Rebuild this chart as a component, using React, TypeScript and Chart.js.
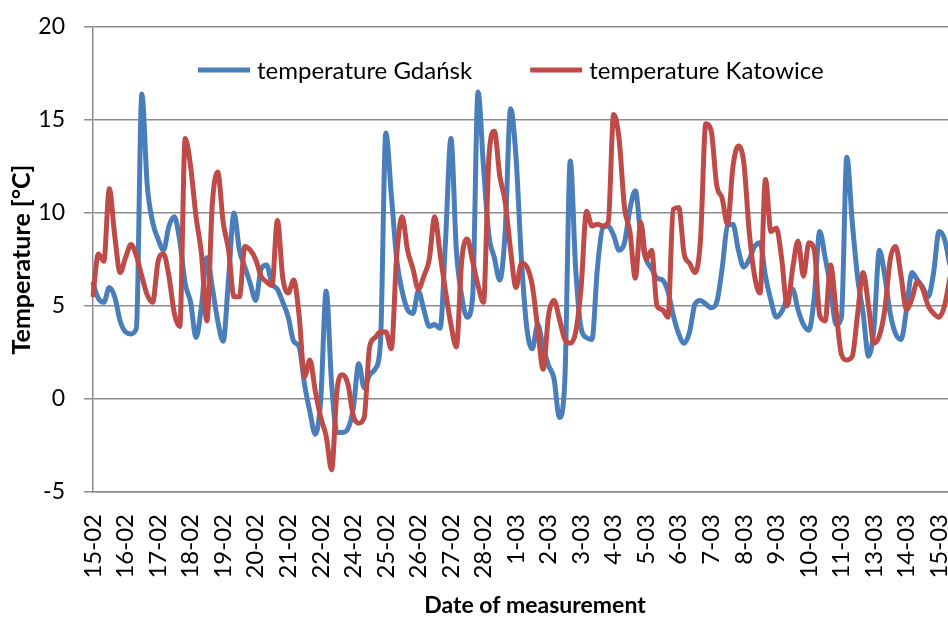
import { useEffect, useRef } from 'react';
import { Chart, registerables } from 'chart.js';

Chart.register(...registerables);

// ---- data ----
const dateLabels = [
  '15-02', '16-02', '17-02', '18-02', '19-02', '20-02', '21-02', '22-02', '24-02',
  '25-02', '26-02', '27-02', '28-02', '1-03', '2-03', '3-03', '4-03', '5-03',
  '6-03', '7-03', '8-03', '9-03', '10-03', '11-03', '13-03', '14-03', '15-03',
];
const POINTS_PER_LABEL = 6;
const SLOT_COUNT = 164;

const gdanskTemp = [
  6.2, 5.4, 5.2, 6.0, 5.5, 4.2, 3.6, 3.5, 3.8, 16.4,
  11.5, 9.5, 8.6, 8.0, 9.3, 9.8, 8.5, 6.2, 5.2, 3.3,
  5.0, 7.6, 6.0, 4.2, 3.1, 6.5, 10.0, 8.0, 7.1, 6.2,
  5.3, 7.0, 7.2, 6.2, 5.9, 5.2, 4.4, 3.1, 2.8, 0.8,
  -0.7, -1.9, 0.0, 5.8, 0.8, -1.8, -1.8, -1.6, -0.5, 1.9,
  0.6, 1.3, 1.6, 3.0, 14.3, 11.0, 7.5, 5.8, 4.8, 4.6,
  5.8, 4.8, 3.9, 4.0, 3.8, 8.5, 14.0, 8.0, 5.5, 4.4,
  5.5, 16.5, 12.5, 8.8, 7.6, 6.4, 9.0, 15.6, 13.0, 7.5,
  3.8, 2.7, 4.0, 2.8, 1.8, 1.1, -1.0, 1.0, 12.8, 7.0,
  3.8, 3.3, 3.2, 7.0, 9.2, 9.3, 8.8, 8.0, 8.4, 10.2,
  11.2, 8.8, 7.5, 7.0, 6.5, 6.4, 5.8, 4.5, 3.5, 3.0,
  3.6, 5.1, 5.3, 5.1, 4.9, 5.2, 7.0, 9.3, 9.4, 8.0,
  7.1, 7.5, 8.2, 8.4, 6.6, 5.3, 4.4, 4.7, 5.4, 5.9,
  4.8, 4.0, 3.7, 5.5, 9.0, 7.6, 6.0, 4.0, 4.4, 13.0,
  9.5, 6.5, 4.6, 2.3, 3.8, 8.0, 6.6, 4.6, 3.5, 3.2,
  4.8, 6.8, 6.4, 6.0, 5.5, 6.8, 9.0, 8.6, 7.2,
];

const katowiceTemp = [
  5.6, 7.8, 7.4, 11.3, 8.8, 6.8, 7.6, 8.3, 7.7, 6.6,
  5.6, 5.2, 7.4, 7.8, 6.6, 4.6, 3.9, 14.0, 12.5, 9.8,
  7.8, 4.2, 10.5, 12.2, 9.5, 8.0, 5.5, 5.5, 8.2, 8.0,
  7.5, 6.6, 6.3, 6.1, 9.6, 6.5, 5.7, 6.4, 4.5, 1.2,
  2.1, 0.4, -1.0, -2.0, -3.8, 0.5, 1.3, 0.8, -0.9, -1.3,
  -1.0, 2.8, 3.3, 3.6, 3.6, 2.7, 7.7, 9.8, 8.0, 7.0,
  5.9, 6.6, 7.5, 9.8, 7.8, 5.8, 4.0, 2.8, 7.5, 8.6,
  7.4, 6.1, 5.2, 13.0, 14.4, 12.0, 10.6, 8.0, 6.0, 7.3,
  7.1, 6.1, 3.8, 1.6, 4.5, 5.3, 4.3, 3.2, 3.0, 3.6,
  6.0, 10.1, 9.3, 9.4, 9.3, 9.5, 15.3, 14.0, 10.3, 9.0,
  6.5, 9.5, 7.5, 8.0, 5.0, 4.8, 4.4, 10.2, 10.3, 7.8,
  7.3, 6.8, 8.5, 14.8, 14.4, 11.5, 10.8, 9.4, 12.5, 13.6,
  12.7, 9.0, 6.6, 5.7, 11.8, 9.0, 9.2, 7.5, 5.0, 7.0,
  8.5, 6.6, 8.4, 8.0, 4.5, 4.2, 7.2, 4.8, 2.4, 2.1,
  2.3, 4.6, 6.8, 5.0, 3.0, 3.4, 4.8, 7.5, 8.2, 6.6,
  4.8, 5.4, 6.3, 5.9, 5.0, 4.6, 4.4, 5.0, 6.5,
];

const seriesNames = ['temperature Gdańsk', 'temperature Katowice'];
const yTicks = { min: -5, max: 20, step: 5 };

// ---- style ----
const BLUE = '#4A7EBB';
const RED = '#BE4B48';
const GRID = '#8c8c8c';
const FONT = 'Lato, "Open Sans", sans-serif';

const insideLegend = {
  id: 'insideLegend',
  afterDatasetsDraw(chart: any) {
    const { ctx, chartArea } = chart;
    ctx.save();
    ctx.font = `24px ${FONT}`;
    ctx.textBaseline = 'middle';
    ctx.textAlign = 'left';
    const lineLen = 52;
    const gap = 7;
    const itemGap = 58;
    let x = chartArea.left + 105;
    const y = chartArea.top + 43;
    chart.data.datasets.forEach((ds: any) => {
      ctx.strokeStyle = ds.borderColor;
      ctx.lineWidth = 5;
      ctx.lineCap = 'butt';
      ctx.beginPath();
      ctx.moveTo(x, y);
      ctx.lineTo(x + lineLen, y);
      ctx.stroke();
      x += lineLen + gap;
      ctx.fillStyle = '#000';
      ctx.fillText(ds.label, x, y + 1);
      x += ctx.measureText(ds.label).width + itemGap;
    });
    ctx.restore();
  },
};

export default function App() {
  const ref = useRef<HTMLCanvasElement>(null);

  useEffect(() => {
    const labels = Array.from({ length: SLOT_COUNT }, (_, i) =>
      i % POINTS_PER_LABEL === 0 && i / POINTS_PER_LABEL < dateLabels.length
        ? dateLabels[i / POINTS_PER_LABEL]
        : ''
    );
    const lineStyle = {
      borderWidth: 5,
      pointRadius: 0,
      cubicInterpolationMode: 'monotone',
      borderJoinStyle: 'round',
      borderCapStyle: 'round',
    };
    const chart = new Chart(ref.current as HTMLCanvasElement, {
      type: 'line',
      data: {
        labels,
        datasets: [
          {
            label: seriesNames[0],
            data: gdanskTemp,
            borderColor: BLUE,
            backgroundColor: BLUE,
            order: 2,
            ...lineStyle,
          },
          {
            label: seriesNames[1],
            data: katowiceTemp,
            borderColor: RED,
            backgroundColor: RED,
            order: 1,
            ...lineStyle,
          },
        ],
      },
      options: {
        animation: false,
        responsive: false,
        layout: { padding: { top: 27, left: 0, right: 0, bottom: 0 } },
        plugins: { legend: { display: false }, tooltip: { enabled: false } },
        scales: {
          x: {
            grid: { display: false, drawTicks: false },
            border: { display: true, color: GRID, width: 1.5 },
            ticks: {
              autoSkip: false,
              minRotation: 90,
              maxRotation: 90,
              padding: 22,
              font: { family: FONT, size: 24 },
              color: '#000',
            },
            title: {
              display: true,
              text: 'Date of measurement',
              font: { family: FONT, size: 23, weight: 'bold' },
              color: '#000',
              padding: { top: 0, bottom: 0 },
            },
            afterFit(scale: any) {
              scale.paddingLeft = 0;
              scale.paddingRight = 0;
              scale.height = 127;
            },
          },
          y: {
            min: yTicks.min,
            max: yTicks.max,
            ticks: {
              stepSize: yTicks.step,
              padding: 19,
              font: { family: FONT, size: 23 },
              color: '#000',
            },
            grid: { color: GRID, lineWidth: 1.5, tickLength: 9, drawTicks: true },
            border: { display: true, color: GRID, width: 1.5 },
            title: {
              display: true,
              text: 'Temperature [°C]',
              font: { family: FONT, size: 25, weight: 'bold' },
              color: '#000',
              padding: { top: 7, bottom: 4 },
            },
            afterFit(scale: any) {
              scale.width = 93;
              scale.paddingTop = 0;
              scale.paddingBottom = 0;
            },
          },
        },
      },
      plugins: [insideLegend],
    } as any);
    return () => chart.destroy();
  }, []);

  return (
    <div
      style={{
        position: 'fixed',
        left: 0,
        top: 0,
        width: 948,
        height: 619,
        overflow: 'hidden',
        background: '#fff',
      }}
    >
      <canvas ref={ref} width={977} height={619} style={{ display: 'block' }} />
    </div>
  );
}
